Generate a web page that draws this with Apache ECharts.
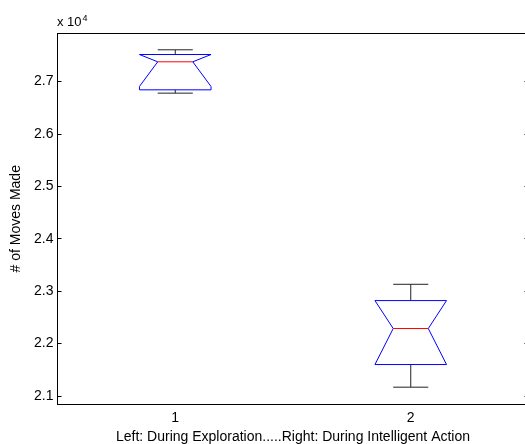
<!DOCTYPE html>
<html>
<head>
<meta charset="utf-8">
<script src="https://cdn.jsdelivr.net/npm/echarts@6/dist/echarts.min.js"></script>
<style>
  html, body { margin: 0; padding: 0; background: #fff; }
  #main { width: 525px; height: 444px; }
</style>
</head>
<body>
<div id="main"></div>
<script>
// groups on the x axis
var categories = ['1', '2']
// box statistics, # of moves
var whiskerLow = [26778, 21168]
var q1 = [26841, 21600]
var notchLow = [26905, 21600]
var median = [27376, 22287]
var notchHigh = [27515, 22820]
var q3 = [27515, 22820]
var whiskerHigh = [27605, 23131]
// y tick values (labels shown as x 10^4)
var yTicks = [21000, 22000, 23000, 24000, 25000, 26000, 27000]

var font = 'Liberation Sans, Arial, Helvetica, sans-serif'

var boxData = []
for (var i = 0; i < categories.length; i++) {
    boxData.push([i, whiskerLow[i], q1[i], notchLow[i], median[i], notchHigh[i], q3[i], whiskerHigh[i]])
}

function renderBox(params, api) {
    var x = api.value(0)
    var band = api.size([1, 0])[0]
    var hw = band * 0.152      // half box width
    var nw = hw * 0.49         // notch / cap half width
    var pt = function (v) { return api.coord([x, api.value(v)]) }
    var cx = pt(4)[0]
    var yLw = pt(1)[1], yQ1 = pt(2)[1], yNl = pt(3)[1], yMd = pt(4)[1]
    var yNh = pt(5)[1], yQ3 = pt(6)[1], yHw = pt(7)[1]
    var black = { stroke: '#222', lineWidth: 1, fill: null }
    return {
        type: 'group',
        children: [
            { type: 'line', shape: { x1: cx, y1: yHw, x2: cx, y2: yQ3 }, style: black },
            { type: 'line', shape: { x1: cx, y1: yQ1, x2: cx, y2: yLw }, style: black },
            { type: 'line', shape: { x1: cx - nw, y1: yHw, x2: cx + nw, y2: yHw }, style: black },
            { type: 'line', shape: { x1: cx - nw, y1: yLw, x2: cx + nw, y2: yLw }, style: black },
            {
                type: 'polygon',
                shape: {
                    points: [
                        [cx - hw, yQ3], [cx + hw, yQ3], [cx + hw, yNh], [cx + nw, yMd],
                        [cx + hw, yNl], [cx + hw, yQ1], [cx - hw, yQ1], [cx - hw, yNl],
                        [cx - nw, yMd], [cx - hw, yNh]
                    ]
                },
                style: { stroke: '#0000ff', lineWidth: 1, fill: null }
            },
            { type: 'line', shape: { x1: cx - nw, y1: yMd, x2: cx + nw, y2: yMd }, style: { stroke: '#ff0000', lineWidth: 1 } }
        ]
    }
}

var myChart = echarts.init(document.getElementById('main'))
var option = {
    animation: false,
    backgroundColor: '#fff',
    textStyle: { fontFamily: font },
    grid: { left: 57.5, top: 33.5, width: 471, height: 370.5, outerBoundsMode: 'none', containLabel: false },
    graphic: [
        {
            type: 'text', left: 57, top: 14,
            style: {
                text: 'x 10{sup|4}', fill: '#000', font: '13px ' + font,
                rich: { sup: { fontSize: 9, verticalAlign: 'top', padding: [0, 0, 8, 1], fontFamily: font } }
            }
        }
    ],
    xAxis: [
        {
            type: 'category', data: categories, position: 'bottom',
            name: 'Left: During Exploration.....Right: During Intelligent Action',
            nameLocation: 'middle', nameGap: 24,
            nameTextStyle: { color: '#000', fontSize: 14, fontFamily: font },
            axisLine: { lineStyle: { color: '#000', width: 1 } },
            axisTick: { inside: true, alignWithLabel: true, length: 5, lineStyle: { color: '#000' } },
            axisLabel: { color: '#000', fontSize: 14, margin: 7, fontFamily: font },
            splitLine: { show: false }
        },
        {
            type: 'category', data: categories, position: 'top',
            axisLine: { lineStyle: { color: '#000', width: 1 } },
            axisTick: { inside: true, alignWithLabel: true, length: 5, lineStyle: { color: '#000' } },
            axisLabel: { show: false },
            splitLine: { show: false }
        }
    ],
    yAxis: [
        {
            type: 'value', min: 20847, max: 27916, position: 'left',
            name: '# of Moves Made', nameLocation: 'middle', nameGap: 31,
            nameTextStyle: { color: '#000', fontSize: 14, fontFamily: font },
            axisLine: { show: true, lineStyle: { color: '#000', width: 1 } },
            axisTick: { show: true, inside: true, length: 4, customValues: yTicks, lineStyle: { color: '#000' } },
            axisLabel: {
                color: '#000', fontSize: 14, margin: 4, fontFamily: font, customValues: yTicks,
                formatter: function (v) { return (v / 10000).toFixed(1) }
            },
            splitLine: { show: false }
        },
        {
            type: 'value', min: 20847, max: 27916, position: 'right',
            axisLine: { show: true, lineStyle: { color: '#000', width: 1 } },
            axisTick: { show: true, inside: true, length: 4, customValues: yTicks, lineStyle: { color: '#000' } },
            axisLabel: { show: false },
            splitLine: { show: false }
        }
    ],
    series: [
        {
            type: 'custom',
            renderItem: renderBox,
            encode: { x: 0, y: [1, 2, 3, 4, 5, 6, 7] },
            data: boxData,
            clip: false
        }
    ]
}
myChart.setOption(option)
</script>
</body>
</html>
